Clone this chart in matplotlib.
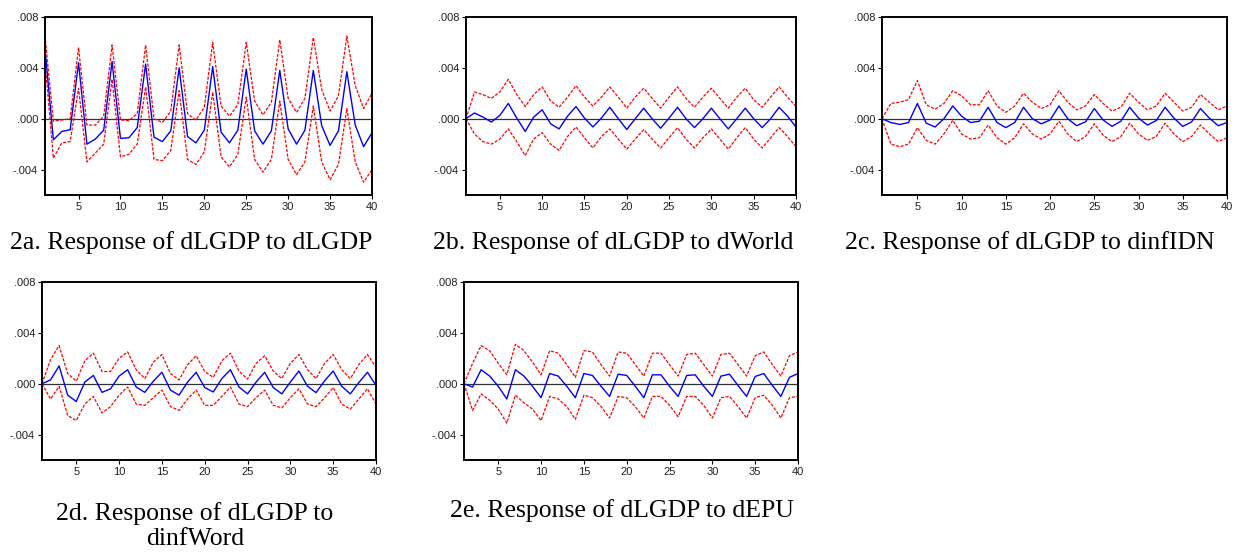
import numpy as np
import matplotlib
matplotlib.use("Agg")
from matplotlib import pyplot as plt

periods = list(range(1, 41))

# 2a: dLGDP -> dLGDP
resp_a = [0.0055, -0.00166, -0.001, -0.00087, 0.0044, -0.002, -0.0016, -0.0009, 0.0045, -0.00155,
          -0.0015, -0.0007, 0.0043, -0.00145, -0.0018, -0.00095, 0.004, -0.0014, -0.0019, -0.0009,
          0.0041, -0.00105, -0.0019, -0.0009, 0.0039, -0.00095, -0.002, -0.00095, 0.0038, -0.0008,
          -0.002, -0.0009, 0.0038, -0.00055, -0.0021, -0.00095, 0.0037, -0.0005, -0.0022, -0.0011]
upper_a = [0.0065, -0.0002, -0.0001, 0.0, 0.0056, -0.0005, -0.0005, 0.0002, 0.0058, -0.0001,
           -0.00015, 0.0004, 0.0058, 0.0, -0.0003, 0.0006, 0.0058, 0.0004, -0.0001, 0.0009,
           0.006, 0.001, 0.0002, 0.0011, 0.006, 0.0014, 0.0003, 0.0013, 0.0062, 0.0016,
           0.0005, 0.0016, 0.0064, 0.0023, 0.0006, 0.0018, 0.0065, 0.0026, 0.0008, 0.002]
lower_a = [0.0045, -0.0031, -0.0019, -0.0018, 0.0024, -0.0034, -0.0027, -0.002, 0.0031, -0.003,
           -0.0028, -0.002, 0.0025, -0.0032, -0.0033, -0.0025, 0.0022, -0.0032, -0.0036, -0.0026,
           0.0021, -0.003, -0.0038, -0.0028, 0.0017, -0.0032, -0.0042, -0.0032, 0.0014, -0.0032,
           -0.0044, -0.0034, 0.001, -0.0034, -0.0048, -0.0036, 0.0008, -0.0034, -0.005, -0.004]

# 2b: dLGDP -> dWorld
resp_b = [0.0, 0.00045, 0.00013, -0.00026, 0.00026, 0.0012, 0.00005, -0.001, 0.00013, 0.0007,
          -0.0004, -0.0008, 0.0002, 0.00096, 0.00005, -0.00065, 0.00005, 0.0009, 0.0, -0.00085,
          0.0, 0.00083, 0.0, -0.00075, 0.00005, 0.0009, 0.0, -0.0007, 0.0, 0.00083,
          0.0, -0.0008, 0.0, 0.00083, 0.0, -0.0007, 0.0, 0.0009, 0.0002, -0.00065]
upper_b = [0.0, 0.0021, 0.0019, 0.0016, 0.0021, 0.0031, 0.0019, 0.00096, 0.0019, 0.0025,
           0.0014, 0.0009, 0.0017, 0.0026, 0.0017, 0.001, 0.0017, 0.0025, 0.0017, 0.00083,
           0.0017, 0.0024, 0.0016, 0.00083, 0.0017, 0.0025, 0.0016, 0.0009, 0.0017, 0.0024,
           0.0016, 0.00083, 0.0017, 0.0024, 0.0015, 0.0009, 0.0017, 0.0025, 0.0017, 0.00096]
lower_b = [0.0, -0.0012, -0.0018, -0.002, -0.0016, -0.0008, -0.0018, -0.0029, -0.0016, -0.0011,
           -0.002, -0.0025, -0.0014, -0.00065, -0.0015, -0.0023, -0.0014, -0.0008, -0.0016, -0.0024,
           -0.0016, -0.00085, -0.0016, -0.0023, -0.0015, -0.0007, -0.0016, -0.0023, -0.0015, -0.0008,
           -0.0016, -0.0024, -0.0015, -0.0007, -0.0016, -0.0023, -0.0015, -0.0007, -0.0014, -0.0022]

# 2c: dLGDP -> dinfIDN
resp_c = [0.0, -0.0003, -0.00045, -0.0003, 0.0012, -0.00035, -0.00065, 0.0, 0.001, 0.0002,
          -0.0003, -0.0002, 0.0009, -0.0003, -0.0007, -0.0003, 0.0009, 0.0, -0.0004, -0.0001,
          0.001, 0.0, -0.00055, -0.00025, 0.0008, -0.0001, -0.0006, -0.0002, 0.0009, 0.00005,
          -0.0005, -0.00015, 0.0009, 0.00005, -0.0006, -0.00025, 0.0008, 0.00005, -0.00055, -0.0003]
upper_c = [0.0, 0.0012, 0.0013, 0.0015, 0.003, 0.0011, 0.00075, 0.0012, 0.0022, 0.0018,
           0.0011, 0.0011, 0.0022, 0.001, 0.0005, 0.001, 0.002, 0.0013, 0.0008, 0.0011,
           0.0022, 0.0013, 0.0007, 0.001, 0.0019, 0.0012, 0.0006, 0.0009, 0.002, 0.0013,
           0.0007, 0.001, 0.002, 0.0013, 0.0006, 0.0009, 0.0019, 0.0013, 0.0007, 0.001]
lower_c = [0.0, -0.002, -0.0022, -0.002, -0.0007, -0.0017, -0.002, -0.0012, -0.00013, -0.0012,
           -0.0016, -0.0015, -0.0005, -0.0015, -0.002, -0.0015, -0.0004, -0.0012, -0.0016, -0.0012,
           -0.0002, -0.0012, -0.0018, -0.0014, -0.0004, -0.0013, -0.0018, -0.0014, -0.00035, -0.0012,
           -0.0017, -0.0014, -0.00035, -0.0012, -0.0018, -0.0014, -0.0005, -0.0012, -0.0018, -0.0015]

# 2d: dLGDP -> dinfWord
resp_d = [0.0, 0.0003, 0.0014, -0.0009, -0.0014, 0.00013, 0.00065, -0.00068, -0.0004, 0.0006,
          0.0011, -0.00026, -0.00068, 0.0002, 0.0009, -0.0005, -0.0009, 0.00013, 0.0009, -0.0003,
          -0.00065, 0.0004, 0.0011, -0.00026, -0.0008, 0.00013, 0.0009, -0.0003, -0.0008, 0.00013,
          0.001, -0.0002, -0.0007, 0.00023, 0.001, -0.0002, -0.0008, 0.0001, 0.0009, -0.00013]
upper_d = [0.0, 0.0019, 0.003, 0.0008, 0.0002, 0.0018, 0.0024, 0.00096, 0.00096, 0.002,
           0.0025, 0.0011, 0.0004, 0.0017, 0.0023, 0.0008, 0.0003, 0.0015, 0.0022, 0.00096,
           0.0005, 0.0018, 0.0024, 0.001, 0.00036, 0.0016, 0.0022, 0.001, 0.0004, 0.0016,
           0.0023, 0.0011, 0.0004, 0.0016, 0.0023, 0.0011, 0.0004, 0.0015, 0.0023, 0.0013]
lower_d = [0.0, -0.0012, -0.0002, -0.0025, -0.0029, -0.0016, -0.001, -0.0023, -0.0018, -0.0009,
           -0.00026, -0.0016, -0.0017, -0.0011, -0.0005, -0.0018, -0.0021, -0.0012, -0.0005, -0.0017,
           -0.0017, -0.001, -0.00026, -0.0016, -0.0018, -0.0011, -0.0005, -0.0017, -0.0019, -0.0011,
           -0.0004, -0.0016, -0.0018, -0.0011, -0.0003, -0.0016, -0.002, -0.0012, -0.0004, -0.0016]

# 2e: dLGDP -> dEPU
resp_e = [0.0, -0.00026, 0.0011, 0.0006, -0.0002, -0.0012, 0.0011, 0.0006, -0.0002, -0.0011,
          0.0008, 0.0006, -0.0002, -0.0011, 0.0008, 0.00065, -0.0002, -0.001, 0.00075, 0.00065,
          -0.0002, -0.0011, 0.0007, 0.0007, -0.0002, -0.001, 0.00065, 0.0007, -0.0002, -0.001,
          0.0006, 0.00075, -0.00015, -0.001, 0.00057, 0.0008, -0.00013, -0.001, 0.0005, 0.0008]
upper_e = [0.0, 0.0016, 0.003, 0.0026, 0.0016, 0.0007, 0.0031, 0.0026, 0.0017, 0.0007,
           0.0026, 0.0024, 0.0015, 0.0005, 0.0026, 0.0025, 0.0015, 0.0006, 0.0025, 0.0024,
           0.0015, 0.0006, 0.0024, 0.0024, 0.0015, 0.0006, 0.0023, 0.0024, 0.0015, 0.0006,
           0.0023, 0.0024, 0.0015, 0.0006, 0.0022, 0.0025, 0.0015, 0.0006, 0.0022, 0.0025]
lower_e = [0.0, -0.0021, -0.0008, -0.0013, -0.002, -0.0031, -0.0009, -0.0015, -0.002, -0.0029,
           -0.001, -0.0012, -0.0018, -0.0028, -0.0009, -0.0011, -0.0018, -0.0027, -0.001, -0.0011,
           -0.0018, -0.0027, -0.001, -0.001, -0.0017, -0.0026, -0.001, -0.001, -0.0017, -0.0027,
           -0.0011, -0.001, -0.0018, -0.0027, -0.0011, -0.0009, -0.0017, -0.0027, -0.0011, -0.001]

captions = ["2a. Response of dLGDP to dLGDP", "2b. Response of dLGDP to dWorld",
            "2c. Response of dLGDP to dinfIDN", "2d. Response of dLGDP to\ndinfWord",
            "2e. Response of dLGDP to dEPU"]
yticks = [-0.004, 0.0, 0.004, 0.008]
ytick_labels = ["-.004", ".000", ".004", ".008"]
xticks = [5, 10, 15, 20, 25, 30, 35, 40]

W, H = 1236, 552
fig = plt.figure(figsize=(W / 100, H / 100), dpi=100)

# axes boxes in pixels: left, right, top, bottom
boxes = [(45, 372, 17, 195), (466, 796, 17, 195), (882, 1227, 17, 195),
         (42, 376, 282, 460), (464, 798, 282, 460)]
# caption centres in pixels
cap_pos = [(191, 243), (613, 243), (1030, 243), (195, 526), (622, 511)]

series = [(resp_a, upper_a, lower_a), (resp_b, upper_b, lower_b), (resp_c, upper_c, lower_c),
          (resp_d, upper_d, lower_d), (resp_e, upper_e, lower_e)]

for i in range(5):
    l, r, t, b = boxes[i]
    ax = fig.add_axes([l / W, 1 - b / H, (r - l) / W, (b - t) / H])
    resp, up, lo = series[i]
    ax.axhline(0, color="#333333", lw=0.9, zorder=1)
    ax.plot(periods, up, color="red", ls=(0, (2.5, 1.2)), lw=0.9)
    ax.plot(periods, lo, color="red", ls=(0, (2.5, 1.2)), lw=0.9)
    ax.plot(periods, resp, color="blue", lw=1.0)
    ax.set_xlim(1, 40)
    ax.set_ylim(-0.006, 0.008)
    ax.set_yticks(yticks)
    ax.set_yticklabels(ytick_labels)
    ax.set_xticks(xticks)
    ax.tick_params(labelsize=8, length=3, width=0.8, pad=2, labelcolor="#222222")
    for lab in ax.get_xticklabels() + ax.get_yticklabels():
        lab.set_fontfamily("Liberation Sans")
    for s in ax.spines.values():
        s.set_linewidth(1.4)
    cx, cy = cap_pos[i]
    fig.text(cx / W, 1 - cy / H, captions[i], ha="center", va="center",
             fontsize=18.5, family="Liberation Serif", linespacing=1.2)

fig.savefig("out.png", dpi=100)
